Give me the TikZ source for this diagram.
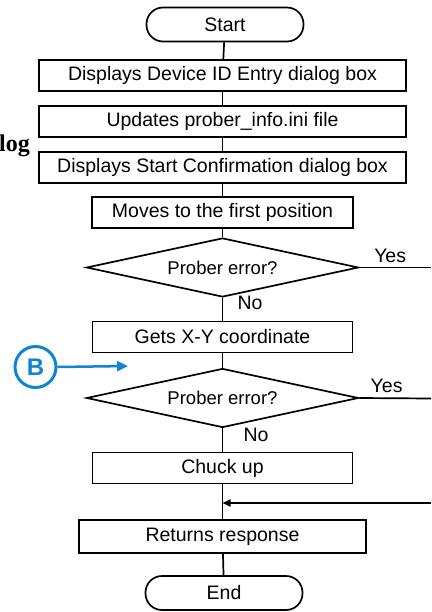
\documentclass[tikz,border=0pt]{standalone}
\usepackage{fontspec}
\setmainfont{Liberation Sans}
\newfontfamily\logfont{Liberation Serif}
\usetikzlibrary{shapes.geometric,arrows.meta}
\definecolor{markblue}{RGB}{16,132,210}
\begin{document}
\begin{tikzpicture}[x=1pt, y=-1pt,
    every node/.style={font=\fontsize{19.5}{23}\selectfont},
    proc/.style={draw, line width=1.7pt, minimum height=31pt, inner sep=0pt},
    term/.style={draw, line width=1.7pt, rounded corners=16.5pt, minimum width=157pt, minimum height=34pt, inner sep=0pt},
    decision/.style={draw, diamond, shape aspect=4.6, line width=1.7pt, minimum width=272pt, minimum height=59pt, inner sep=0pt,
        font=\fontsize{18.5}{22}\selectfont},
    link/.style={line width=1.7pt}]
    \useasboundingbox (0,0) rectangle (431,612);
    % main column
    \node[term] (start) at (225,24.5) {Start};
    \node[proc, minimum width=367pt] (b1) at (222.5,75.5) {Displays Device ID Entry dialog box};
    \node[proc, minimum width=367pt] (b2) at (222.5,121.5) {Updates prober\_info.ini file};
    \node[proc, minimum width=367pt] (b3) at (222.5,167.5) {Displays Start Confirmation dialog box};
    \node[proc, minimum width=261pt] (b4) at (222.5,212.5) {Moves to the first position};
    \node[decision] (d1) at (222.5,267.5) {Prober error?};
    \node[proc, minimum width=260pt] (b5) at (222.5,337) {Gets X-Y coordinate};
    \node[decision] (d2) at (222.5,398) {Prober error?};
    \node[proc, minimum width=260pt] (b6) at (222.5,468) {Chuck up};
    \node[proc, minimum width=287pt, minimum height=33pt] (b7) at (222.5,536.5) {Returns response};
    \node[term] (end) at (224,593) {End};
    \foreach \u/\v in {start/b1, b1/b2, b2/b3, b3/b4, b4/d1, d1/b5, b5/d2, d2/b6, b6/b7, b7/end}
        \draw[link] (\u) -- (\v);
    % branches to the right
    \coordinate (r1) at (431,267.5);
    \coordinate (r2) at (431,398.5);
    \coordinate (r3) at (431,503);
    \draw[link] (d1.east) -- (r1) node[pos=0.43, above=1pt] (yes1) {Yes};
    \draw[link] (d2.east) -- (r2) node[pos=0.38, above=1pt] (yes2) {Yes};
    \draw[link, -{Triangle[length=8pt, width=7pt]}] (r3) -- (r3 -| b6.south);
    \node (no1) at (250,303) {No};
    \node (no2) at (256,435) {No};
    % entry point B
    \node[draw=markblue, circle, line width=3pt, minimum size=41pt, inner sep=0pt,
        text=markblue, font=\fontsize{24}{24}\selectfont\bfseries] (bmark) at (35.5,367) {B};
    \coordinate (bend) at (128,366);
    \draw[markblue, line width=2.5pt, -{Triangle[length=11pt, width=10pt]}] (bmark.east) -- (bend);
    % clipped caption fragment
    \node[anchor=base west, inner sep=0pt, font=\logfont\fontsize{24}{24}\selectfont\bfseries] (frag) at (-1,152) {log};
\end{tikzpicture}
\end{document}
